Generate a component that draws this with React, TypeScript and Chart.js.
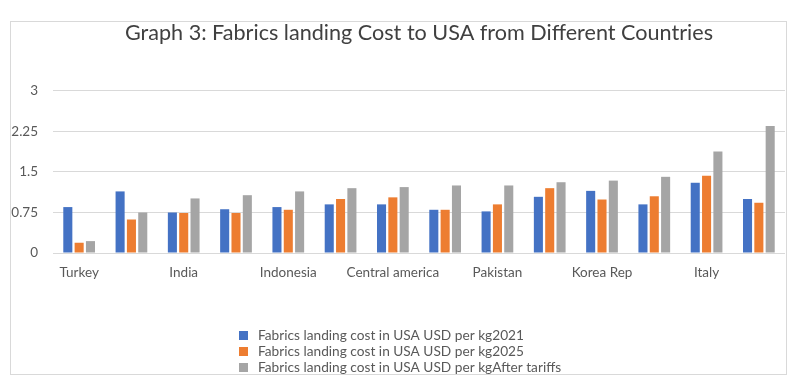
import React, { useEffect, useRef } from "react";
import { Chart, registerables } from "chart.js";

Chart.register(...registerables);

const TITLE = "Graph 3: Fabrics landing Cost to USA from Different Countries";
const categories = ["Turkey", "", "India", "", "Indonesia", "", "Central america", "", "Pakistan", "", "Korea Rep", "", "Italy", ""];
const cost2021 = [0.85, 1.14, 0.75, 0.81, 0.85, 0.9, 0.9, 0.8, 0.77, 1.04, 1.15, 0.9, 1.3, 1.0];
const cost2025 = [0.19, 0.62, 0.74, 0.74, 0.8, 1.0, 1.03, 0.8, 0.9, 1.2, 0.99, 1.05, 1.43, 0.93];
const costAfterTariffs = [0.22, 0.75, 1.01, 1.07, 1.14, 1.2, 1.22, 1.25, 1.25, 1.31, 1.34, 1.41, 1.88, 2.35];
const seriesLabels = [
  "Fabrics landing cost in USA USD per kg2021",
  "Fabrics landing cost in USA USD per kg2025",
  "Fabrics landing cost in USA USD per kgAfter tariffs",
];
const seriesColors = ["#4472C4", "#ED7D31", "#A5A5A5"];
const yMin = 0;
const yMax = 3;
const yStep = 0.75;

const FONT = "Lato, 'Open Sans', sans-serif";
const TEXT = "#595959";
const TITLE_COLOR = "#404040";
const GRID = "#D9D9D9";

const framePlugin = {
  id: "frame",
  beforeDraw(chart: any) {
    const ctx = chart.ctx;
    ctx.save();
    ctx.fillStyle = "#FFFFFF";
    ctx.fillRect(0, 0, chart.width, chart.height);
    ctx.strokeStyle = GRID;
    ctx.lineWidth = 1;
    ctx.strokeRect(10.5, 21.5, 776, 353);
    ctx.restore();
  },
};

const stackedLegendPlugin = {
  id: "stackedLegend",
  afterDraw(chart: any) {
    const ctx = chart.ctx;
    ctx.save();
    ctx.font = `13.7px ${FONT}`;
    ctx.textBaseline = "middle";
    ctx.textAlign = "left";
    chart.data.datasets.forEach((ds: any, i: number) => {
      const y = 335.5 + i * 16;
      ctx.fillStyle = ds.backgroundColor;
      ctx.fillRect(239, y - 4.5, 9, 9);
      ctx.fillStyle = TEXT;
      ctx.fillText(ds.label, 258, y);
    });
    ctx.restore();
  },
};

export default function App() {
  const canvasRef = useRef<HTMLCanvasElement | null>(null);

  useEffect(() => {
    if (!canvasRef.current) return;
    const series = [cost2021, cost2025, costAfterTariffs];
    const chart = new Chart(canvasRef.current, {
      type: "bar",
      data: {
        labels: categories,
        datasets: series.map((data, i) => ({
          label: seriesLabels[i],
          data,
          backgroundColor: seriesColors[i],
          borderWidth: 0,
          categoryPercentage: 0.65,
          barPercentage: 0.8,
        })),
      },
      options: {
        animation: false,
        responsive: true,
        maintainAspectRatio: false,
        layout: { padding: { left: 10, right: 15, top: 0, bottom: 105 } },
        plugins: {
          legend: { display: false },
          tooltip: { enabled: false },
          title: {
            display: true,
            text: TITLE,
            fullSize: false,
            color: TITLE_COLOR,
            font: { family: FONT, size: 21.6, weight: "normal", lineHeight: 1.2 },
            padding: { top: 20, bottom: 45 },
          },
        },
        scales: {
          x: {
            grid: { display: false },
            border: { display: false },
            ticks: {
              autoSkip: false,
              maxRotation: 0,
              color: TEXT,
              font: { family: FONT, size: 13.5 },
              padding: 4,
            },
            afterFit: (scale: any) => {
              scale.height = 30;
            },
          },
          y: {
            min: yMin,
            max: yMax,
            grid: { color: GRID, drawTicks: false },
            border: { display: false },
            ticks: {
              stepSize: yStep,
              color: TEXT,
              font: { family: FONT, size: 13.5 },
              padding: 15,
              callback: (v: any) => String(Number(v)),
            },
            afterFit: (scale: any) => {
              scale.width = 43;
            },
          },
        },
      },
      plugins: [framePlugin, stackedLegendPlugin],
    });
    return () => chart.destroy();
  }, []);

  return (
    <div style={{ position: "fixed", left: 0, top: 0, width: 800, height: 388 }}>
      <canvas ref={canvasRef} />
    </div>
  );
}
